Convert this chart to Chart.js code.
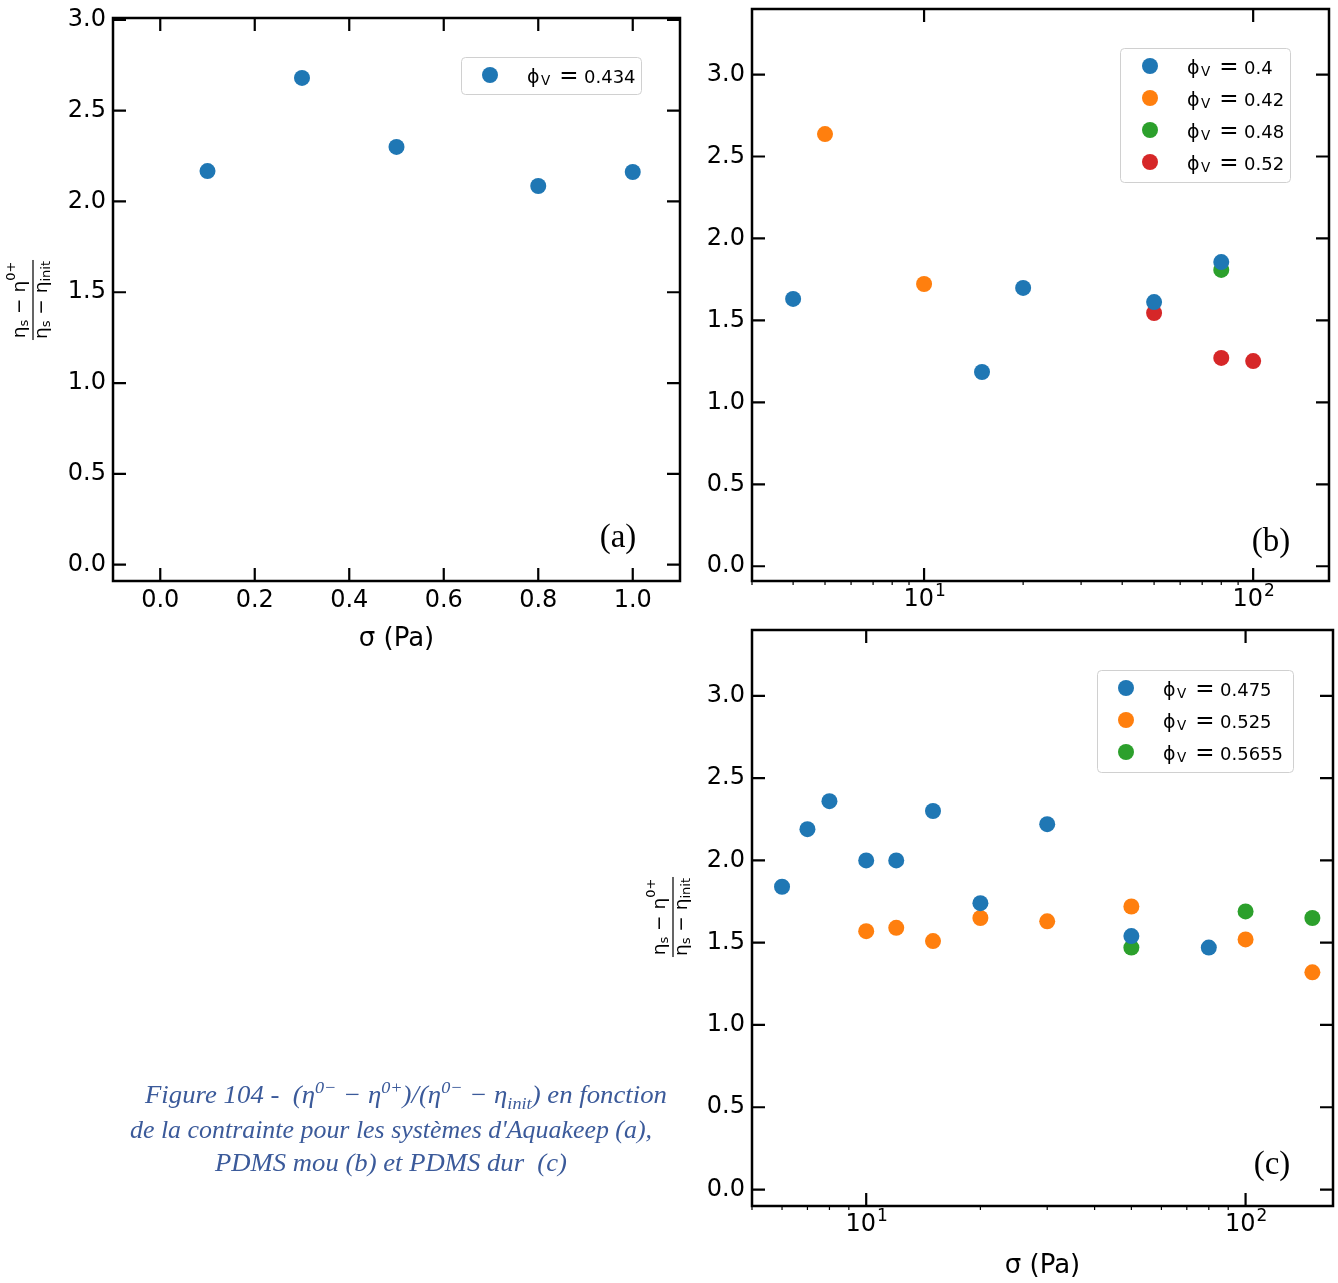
<!DOCTYPE html>
<html><head><meta charset="utf-8">
<script src="https://cdn.jsdelivr.net/npm/chart.js@4.4.1/dist/chart.umd.min.js"></script>
<style>
html,body{margin:0;padding:0;background:#fff}
body{width:1338px;height:1283px;position:relative;overflow:hidden}
canvas{position:absolute}
.cap{position:absolute;white-space:nowrap;font-family:"Liberation Serif","DejaVu Serif",serif;font-style:italic;color:#3b5a9a;line-height:1;font-size:23px;transform-origin:0 0}
.cap sup,.cap sub{font-size:68%;line-height:0}
</style></head><body>
<canvas id="ca" width="690" height="656" style="left:0;top:0"></canvas>
<canvas id="cb" width="648" height="620" style="left:690px;top:0"></canvas>
<canvas id="cc" width="708" height="663" style="left:630px;top:620px"></canvas>
<div class="cap" id="cap1">Figure 104 -&nbsp; (η<sup>0−</sup> − η<sup>0+</sup>)/(η<sup>0−</sup> − η<sub>init</sub>) en fonction</div>
<div class="cap" id="cap2">de la contrainte pour les systèmes d'Aquakeep (a),</div>
<div class="cap" id="cap3">PDMS mou (b) et PDMS dur&nbsp; (c)</div>
<script>
// ---------- DATA ----------
// Panel (a) : Aquakeep
const sigmaA = [0.1, 0.3, 0.5, 0.8, 1.0];
const ratioA = [2.167, 2.68, 2.30, 2.085, 2.162];
const phiA = '0.434';
// Panel (b) : PDMS mou
const sigmaB_040 = [4, 15, 20, 50, 80];
const ratioB_040 = [1.631, 1.185, 1.698, 1.612, 1.856];
const sigmaB_042 = [5, 10];
const ratioB_042 = [2.637, 1.722];
const sigmaB_048 = [80];
const ratioB_048 = [1.808];
const sigmaB_052 = [50, 80, 100];
const ratioB_052 = [1.545, 1.271, 1.252];
const phiB = ['0.4', '0.42', '0.48', '0.52'];
// Panel (c) : PDMS dur
const sigmaC_0475 = [6, 7, 8, 10, 12, 15, 20, 30, 50, 80];
const ratioC_0475 = [1.84, 2.19, 2.36, 2.00, 2.00, 2.30, 1.74, 2.22, 1.54, 1.47];
const sigmaC_0525 = [10, 12, 15, 20, 30, 50, 100, 150];
const ratioC_0525 = [1.57, 1.59, 1.51, 1.65, 1.63, 1.72, 1.52, 1.32];
const sigmaC_05655 = [50, 100, 150];
const ratioC_05655 = [1.47, 1.69, 1.65];
const phiC = ['0.475', '0.525', '0.5655'];
// Tick values
const yTickValues = [0, 0.5, 1.0, 1.5, 2.0, 2.5, 3.0];
const xTickValuesA = [0, 0.2, 0.4, 0.6, 0.8, 1.0];
const xMajorLog = [10, 100];
const xMinorLog = [2,3,4,5,6,7,8,9,20,30,40,50,60,70,80,90,200];
const xTitle = 'σ (Pa)';

// ---------- STYLE ----------
const COLORS = ['#1f77b4', '#ff7f0e', '#2ca02c', '#d62728'];
const FONT = '"DejaVu Sans"';
const TL = 13;

function pts(xs, ys){ return xs.map((x,i)=>({x:x, y:ys[i]})); }

function partsWidth(ctx, parts){
  let w=0; for(const p of parts){ ctx.font=p[1]+'px '+FONT; w+=ctx.measureText(p[0]).width; } return w;
}
function drawParts(ctx, parts, x, y){
  for(const p of parts){ ctx.font=p[1]+'px '+FONT; ctx.fillText(p[0], x, y+p[2]); x+=ctx.measureText(p[0]).width; }
}
function drawFrac(ctx, cx, cy){
  ctx.save(); ctx.translate(cx,cy); ctx.rotate(-Math.PI/2);
  ctx.fillStyle='#000'; ctx.textBaseline='alphabetic'; ctx.textAlign='left';
  const num=[['η',18.5,0],['s',13,3],[' − η',18.5,0],['0+',13,-10]];
  const den=[['η',18.5,0],['s',13,3],[' − η',18.5,0],['init',13,3]];
  const wN=partsWidth(ctx,num), wD=partsWidth(ctx,den);
  drawParts(ctx,num,-wN/2,-8);
  drawParts(ctx,den,-wD/2,14);
  const bw=Math.max(wN,wD)+2;
  ctx.fillRect(-bw/2,-0.6,bw,1.2);
  ctx.restore();
}
function drawPhi(ctx, val, x, b){
  ctx.fillStyle='#000'; ctx.textBaseline='alphabetic';
  ctx.textAlign='left';
  ctx.font='19px '+FONT; ctx.fillText('ϕ', x, b);
  ctx.font='13.5px '+FONT; ctx.fillText('V', x+14, b+2);
  ctx.textAlign='center'; ctx.font='23px '+FONT; ctx.fillText('=', x+42, b);
  ctx.textAlign='left'; ctx.font='18px '+FONT; ctx.fillText(val, x+57, b);
}

const deco = {
  id:'deco',
  afterDraw(chart, args, o){
    const ctx=chart.ctx, a=chart.chartArea, xs=chart.scales.x, ys=chart.scales.y;
    ctx.save();
    ctx.strokeStyle='#000'; ctx.fillStyle='#000';
    ctx.lineWidth=2.2; ctx.beginPath();
    o.xMajor.forEach(v=>{ const p=xs.getPixelForValue(v);
      ctx.moveTo(p,a.bottom); ctx.lineTo(p,a.bottom-TL); ctx.moveTo(p,a.top); ctx.lineTo(p,a.top+TL); });
    o.yMajor.forEach(v=>{ const p=ys.getPixelForValue(v);
      ctx.moveTo(a.left,p); ctx.lineTo(a.left+TL,p); ctx.moveTo(a.right,p); ctx.lineTo(a.right-TL,p); });
    ctx.stroke();
    if(o.xMinor){
      ctx.lineWidth=1.2; ctx.beginPath();
      o.xMinor.filter(v=>v>=xs.min && v<=xs.max).forEach(v=>{ const p=xs.getPixelForValue(v);
        ctx.moveTo(p,a.bottom); ctx.lineTo(p,a.bottom+4); });
      ctx.stroke();
    }
    ctx.lineWidth=2.5;
    ctx.strokeRect(a.left,a.top,a.right-a.left,a.bottom-a.top);
    if(o.logLabels){
      ctx.textBaseline='alphabetic'; ctx.textAlign='left';
      o.xMajor.forEach(v=>{
        const p=xs.getPixelForValue(v), e=String(Math.round(Math.log10(v)));
        ctx.font='24px '+FONT; const w1=ctx.measureText('10').width;
        ctx.font='17px '+FONT; const w2=ctx.measureText(e).width;
        const x0=p-(w1+w2)/2, by=a.bottom+25;
        ctx.font='24px '+FONT; ctx.fillText('10',x0,by);
        ctx.font='17px '+FONT; ctx.fillText(e,x0+w1+1,by-10);
      });
    }
    ctx.translate(-o.ox,-o.oy);
    const L=o.legend;
    ctx.beginPath(); ctx.roundRect(L.bx+0.5,L.by+0.5,L.bw,L.bh,4);
    ctx.fillStyle='rgba(255,255,255,0.85)'; ctx.fill();
    ctx.strokeStyle='#d0d0d0'; ctx.lineWidth=1; ctx.stroke();
    chart.data.datasets.forEach((ds,i)=>{
      const cy=L.y0+i*L.dy;
      ctx.fillStyle=ds.backgroundColor; ctx.beginPath(); ctx.arc(L.mx,cy,8,0,Math.PI*2); ctx.fill();
      drawPhi(ctx, ds.phi, L.tx, cy+8);
    });
    ctx.fillStyle='#000'; ctx.font='33px "Liberation Serif", serif'; ctx.textAlign='center'; ctx.textBaseline='alphabetic';
    ctx.fillText(o.letter[0], o.letter[1], o.letter[2]);
    if(o.frac) drawFrac(ctx, o.frac[0], o.frac[1]);
    ctx.restore();
  }
};

function yScale(min,max,width){
  return { type:'linear', min:min, max:max,
    afterBuildTicks:s=>{ s.ticks=yTickValues.map(v=>({value:v})); },
    ticks:{ font:{family:'DejaVu Sans',size:24}, color:'#000', padding:7, callback:v=>Number(v).toFixed(1) },
    grid:{display:false, drawTicks:false}, border:{display:false},
    afterFit:s=>{ s.width=width; s.paddingTop=0; s.paddingBottom=0; } };
}
function logX(min,max,height,title){
  return { type:'logarithmic', min:min, max:max,
    afterBuildTicks:s=>{ s.ticks=xMajorLog.map(v=>({value:v})); },
    ticks:{ display:false }, grid:{display:false, drawTicks:false}, border:{display:false},
    title: title ? { display:true, text:xTitle, color:'#000', font:{family:'DejaVu Sans',size:26}, padding:{top:0,bottom:1} } : {display:false},
    afterFit:s=>{ s.height=height; s.paddingLeft=0; s.paddingRight=0; } };
}
const common = { responsive:false, animation:false, events:[], devicePixelRatio:1 };

// ---------- (a) ----------
new Chart(document.getElementById('ca'), {
  type:'scatter',
  data:{ datasets:[ { data:pts(sigmaA,ratioA), phi:phiA, backgroundColor:COLORS[0], borderWidth:0, pointRadius:8 } ] },
  options:Object.assign({}, common, {
    layout:{ autoPadding:false, padding:{ top:18, right:10, left:0, bottom:0 } },
    plugins:{ legend:{display:false}, tooltip:{enabled:false},
      deco:{ ox:0, oy:0, xMajor:xTickValuesA, yMajor:yTickValues,
        legend:{ bx:461, by:57, bw:180, bh:37, mx:490, tx:527, y0:75, dy:32 },
        letter:['(a)',618,547], frac:[33,300] } },
    scales:{
      x:{ type:'linear', min:-0.1, max:1.1,
        afterBuildTicks:s=>{ s.ticks=xTickValuesA.map(v=>({value:v})); },
        ticks:{ font:{family:'DejaVu Sans',size:24}, color:'#000', padding:5, maxRotation:0, autoSkip:false, callback:v=>Number(v).toFixed(1) },
        grid:{display:false, drawTicks:false}, border:{display:false},
        title:{ display:true, text:xTitle, color:'#000', font:{family:'DejaVu Sans',size:26}, padding:{top:0,bottom:1} },
        afterFit:s=>{ s.height=75; s.paddingLeft=0; s.paddingRight=0; } },
      y: yScale(-0.09, 3.01, 113)
    }
  }),
  plugins:[deco]
});

// ---------- (b) ----------
new Chart(document.getElementById('cb'), {
  type:'scatter',
  data:{ datasets:[
    { data:pts(sigmaB_040,ratioB_040), phi:phiB[0], backgroundColor:COLORS[0], borderWidth:0, pointRadius:8 },
    { data:pts(sigmaB_042,ratioB_042), phi:phiB[1], backgroundColor:COLORS[1], borderWidth:0, pointRadius:8 },
    { data:pts(sigmaB_048,ratioB_048), phi:phiB[2], backgroundColor:COLORS[2], borderWidth:0, pointRadius:8 },
    { data:pts(sigmaB_052,ratioB_052), phi:phiB[3], backgroundColor:COLORS[3], borderWidth:0, pointRadius:8 } ] },
  options:Object.assign({}, common, {
    layout:{ autoPadding:false, padding:{ top:9, right:9, left:0, bottom:0 } },
    plugins:{ legend:{display:false}, tooltip:{enabled:false},
      deco:{ ox:690, oy:0, xMajor:xMajorLog, xMinor:xMinorLog, yMajor:yTickValues, logLabels:true,
        legend:{ bx:1120, by:48, bw:170, bh:134, mx:1150, tx:1187, y0:66, dy:32 },
        letter:['(b)',1271,551] } },
    scales:{ x: logX(3, 170, 39, false), y: yScale(-0.09, 3.4, 62) }
  }),
  plugins:[deco]
});

// ---------- (c) ----------
new Chart(document.getElementById('cc'), {
  type:'scatter',
  data:{ datasets:[
    { data:pts(sigmaC_0475,ratioC_0475), phi:phiC[0], backgroundColor:COLORS[0], borderWidth:0, pointRadius:8 },
    { data:pts(sigmaC_0525,ratioC_0525), phi:phiC[1], backgroundColor:COLORS[1], borderWidth:0, pointRadius:8 },
    { data:pts(sigmaC_05655,ratioC_05655), phi:phiC[2], backgroundColor:COLORS[2], borderWidth:0, pointRadius:8 } ] },
  options:Object.assign({}, common, {
    layout:{ autoPadding:false, padding:{ top:10, right:5, left:0, bottom:0 } },
    plugins:{ legend:{display:false}, tooltip:{enabled:false},
      deco:{ ox:630, oy:620, xMajor:xMajorLog, xMinor:xMinorLog, yMajor:yTickValues, logLabels:true,
        legend:{ bx:1097, by:670, bw:196, bh:102, mx:1126, tx:1163, y0:688, dy:32 },
        letter:['(c)',1272,1174], frac:[673,917] } },
    scales:{ x: logX(5, 170, 77, true), y: yScale(-0.1, 3.4, 122) }
  }),
  plugins:[deco]
});

// ---------- caption layout ----------
(function(){
  const c=[1,2,3].map(i=>document.getElementById('cap'+i));
  const fs=23*522/c[1].getBoundingClientRect().width;
  c.forEach(e=>e.style.fontSize=fs+'px');
  const base=[1104,1139,1172], left=[145,130,215], target=[522,522,352];
  c.forEach((e,i)=>{
    const w=e.getBoundingClientRect().width;
    e.style.top=(base[i]-0.8375*fs)+'px';
    e.style.left=left[i]+'px';
    e.style.transform='scaleX('+(target[i]/w)+')';
  });
})();
</script>
</body></html>
